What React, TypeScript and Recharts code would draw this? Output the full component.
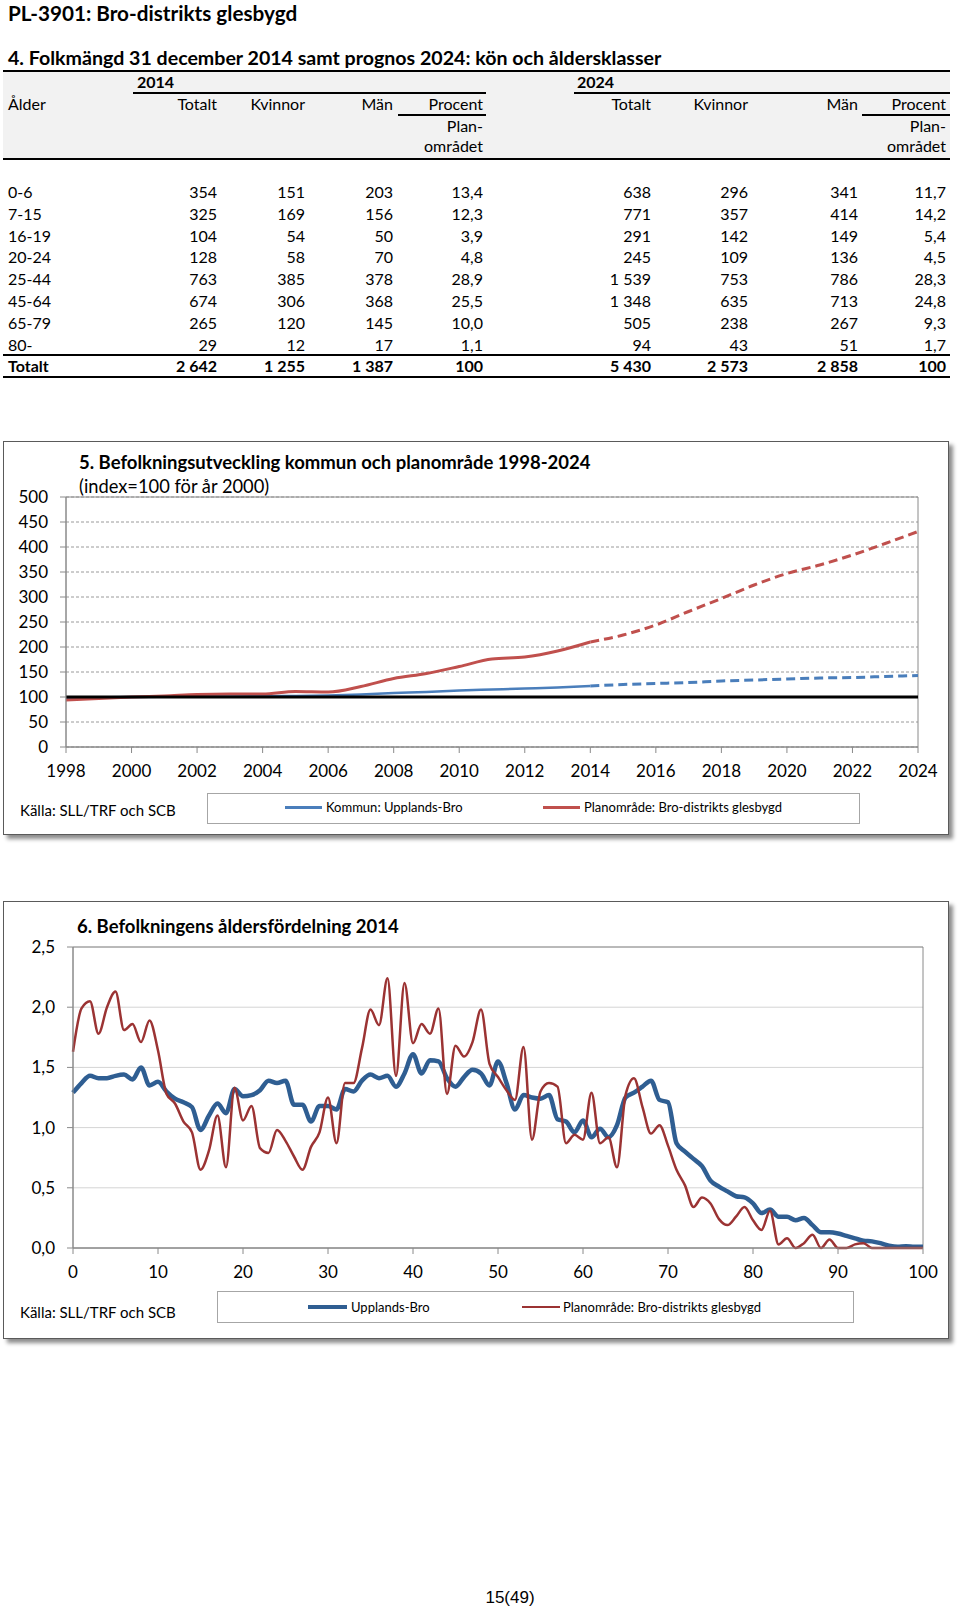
import React from "react";
import {
  LineChart,
  Line,
  XAxis,
  YAxis,
  CartesianGrid,
  ReferenceLine,
  ReferenceArea,
} from "recharts";

const FONT = "Lato, 'Open Sans', sans-serif";

// Tabell 4
const ageGroups = ["0-6", "7-15", "16-19", "20-24", "25-44", "45-64", "65-79", "80-"];
const tot2014 = [354, 325, 104, 128, 763, 674, 265, 29];
const kv2014 = [151, 169, 54, 58, 385, 306, 120, 12];
const man2014 = [203, 156, 50, 70, 378, 368, 145, 17];
const pct2014 = [13.4, 12.3, 3.9, 4.8, 28.9, 25.5, 10.0, 1.1];
const tot2024 = [638, 771, 291, 245, 1539, 1348, 505, 94];
const kv2024 = [296, 357, 142, 109, 753, 635, 238, 43];
const man2024 = [341, 414, 149, 136, 786, 713, 267, 51];
const pct2024 = [11.7, 14.2, 5.4, 4.5, 28.3, 24.8, 9.3, 1.7];
const sum2014 = [2642, 1255, 1387, 100];
const sum2024 = [5430, 2573, 2858, 100];

// Diagram 5
const years = [
  1998, 1999, 2000, 2001, 2002, 2003, 2004, 2005, 2006, 2007, 2008, 2009, 2010,
  2011, 2012, 2013, 2014, 2015, 2016, 2017, 2018, 2019, 2020, 2021, 2022, 2023, 2024,
];
const yearTicks = [1998, 2000, 2002, 2004, 2006, 2008, 2010, 2012, 2014, 2016, 2018, 2020, 2022, 2024];
const indexTicks = [0, 50, 100, 150, 200, 250, 300, 350, 400, 450, 500];
// 1998-2014
const kommunHist = [98, 99, 100, 100.5, 101, 101, 101.5, 102, 103, 105, 108, 110, 113, 115, 117, 119, 122];
// 2014-2024
const kommunProg = [122, 125, 127, 129, 132, 134, 136, 138, 139, 141, 143];
const planHist = [94, 97, 100, 102, 105, 106, 106, 111, 110, 121, 137, 147, 161, 176, 180, 192, 210];
const planProg = [210, 224, 244, 271, 297, 324, 347, 364, 384, 407, 431];

// Diagram 6, andel (%) per ålder 0-100
const upplandsBro = [
  1.29, 1.37, 1.43, 1.41, 1.41, 1.43, 1.44, 1.4, 1.5, 1.35, 1.38, 1.3, 1.24, 1.21, 1.17, 0.98, 1.1,
  1.2, 1.12, 1.32, 1.26, 1.27, 1.31, 1.39, 1.37, 1.39, 1.19, 1.19, 1.05, 1.18, 1.18, 1.15, 1.32,
  1.3, 1.39, 1.44, 1.41, 1.43, 1.34, 1.45, 1.61, 1.45, 1.56, 1.55, 1.41, 1.34, 1.42, 1.48, 1.45,
  1.35, 1.55, 1.37, 1.15, 1.27, 1.25, 1.24, 1.27, 1.07, 1.05, 0.96, 1.06, 0.92, 0.99, 0.92, 1.02,
  1.25, 1.29, 1.34, 1.39, 1.23, 1.21, 0.87, 0.8, 0.74, 0.68, 0.56, 0.51, 0.47, 0.43, 0.42, 0.37,
  0.29, 0.32, 0.26, 0.26, 0.23, 0.25, 0.19, 0.13, 0.13, 0.12, 0.1, 0.08, 0.06, 0.055, 0.04, 0.02,
  0.01, 0.015, 0.01, 0.01,
];
const broGlesbygd = [
  1.63, 1.99, 2.05, 1.78, 2.0, 2.13, 1.81, 1.86, 1.71, 1.89, 1.64, 1.28, 1.2, 1.05, 0.96, 0.65, 0.81,
  1.1, 0.67, 1.33, 1.06, 1.18, 0.83, 0.79, 0.98, 0.89, 0.76, 0.65, 0.84, 0.96, 1.25, 0.87, 1.37,
  1.37, 1.66, 1.98, 1.85, 2.24, 1.43, 2.2, 1.7, 1.86, 1.78, 1.99, 1.28, 1.68, 1.59, 1.71, 1.98,
  1.53, 1.42, 1.31, 1.23, 1.67, 0.9, 1.3, 1.37, 1.34, 0.87, 0.94, 0.9, 1.29, 0.87, 0.92, 0.67, 1.27,
  1.41, 1.17, 0.95, 1.02, 0.85, 0.65, 0.52, 0.34, 0.42, 0.37, 0.24, 0.19, 0.26, 0.34, 0.23, 0.15,
  0.31, 0.03, 0.08, 0, 0.04, 0.11, 0, 0.07, 0, 0, 0.03, 0.04, 0, 0, 0, 0, 0, 0, 0,
];
const ageTicks = [0, 10, 20, 30, 40, 50, 60, 70, 80, 90, 100];
const shareTicks = [0, 0.5, 1, 1.5, 2, 2.5];

const devData = years.map((year, i) => ({
  year,
  kommun: i < kommunHist.length ? kommunHist[i] : null,
  kommunProg: i >= 16 ? kommunProg[i - 16] : null,
  plan: i < planHist.length ? planHist[i] : null,
  planProg: i >= 16 ? planProg[i - 16] : null,
}));

const ageData = upplandsBro.map((v, i) => ({ age: i, bro: v, plan: broGlesbygd[i] }));

const BLUE5 = "#4a7ebb";
const RED5 = "#c0504d";
const BLUE6 = "#2f5e92";
const RED6 = "#9b3333";
const AXIS = "#8a8a8a";

function fmtInt(n: number) {
  return n >= 1000 ? `${Math.floor(n / 1000)} ${String(n % 1000).padStart(3, "0")}` : String(n);
}
function fmtPct(n: number) {
  return n.toFixed(1).replace(".", ",");
}

type TxtProps = {
  x: number;
  y: number;
  anchor?: "start" | "end" | "middle";
  size?: number;
  bold?: boolean;
  font?: string;
  children: React.ReactNode;
};

function Txt({ x, y, anchor = "start", size = 16, bold, font = FONT, children }: TxtProps) {
  const h = Math.round(size * 1.25);
  const style: React.CSSProperties = {
    position: "absolute",
    top: y - h / 2,
    height: h,
    lineHeight: `${h}px`,
    fontSize: size,
    fontWeight: bold ? 700 : 400,
    fontFamily: font,
    whiteSpace: "nowrap",
    color: "#000",
  };
  if (anchor === "start") style.left = x;
  else if (anchor === "end") style.right = 960 - x;
  else {
    style.left = x - 300;
    style.width = 600;
    style.textAlign = "center";
  }
  return <div style={style}>{children}</div>;
}

function HLine({ x1, x2, y, t = 2, color = "#000" }: { x1: number; x2: number; y: number; t?: number; color?: string }) {
  return (
    <div
      style={{ position: "absolute", left: x1, top: y - t / 2, width: x2 - x1, height: t, background: color }}
    />
  );
}

const leftCols = [217, 305, 393, 483];
const rightCols = [651, 748, 858, 946];

function Table4() {
  const rowY = (i: number) => 192 + i * 21.8;
  return (
    <>
      <Txt x={8} y={13} size={20.7} bold>
        PL-3901: Bro-distrikts glesbygd
      </Txt>
      <Txt x={8} y={57} size={19.6} bold>
        4. Folkmängd 31 december 2014 samt prognos 2024: kön och åldersklasser
      </Txt>
      <div style={{ position: "absolute", left: 3, top: 71, width: 947, height: 88, background: "#f2f2f2" }} />
      <HLine x1={3} x2={950} y={71} />
      <Txt x={137} y={82} bold>2014</Txt>
      <Txt x={577} y={82} bold>2024</Txt>
      <HLine x1={133} x2={486} y={93} t={1.5} />
      <HLine x1={574} x2={950} y={93} t={1.5} />
      <Txt x={8} y={104}>Ålder</Txt>
      {["Totalt", "Kvinnor", "Män", "Procent"].map((h, k) => (
        <React.Fragment key={h}>
          <Txt x={leftCols[k]} y={104} anchor="end">{h}</Txt>
          <Txt x={rightCols[k]} y={104} anchor="end">{h}</Txt>
        </React.Fragment>
      ))}
      <HLine x1={398} x2={486} y={115} t={1.5} />
      <HLine x1={862} x2={950} y={115} t={1.5} />
      <Txt x={483} y={126} anchor="end">Plan-</Txt>
      <Txt x={483} y={146} anchor="end">området</Txt>
      <Txt x={946} y={126} anchor="end">Plan-</Txt>
      <Txt x={946} y={146} anchor="end">området</Txt>
      <HLine x1={3} x2={950} y={159} />
      {ageGroups.map((g, i) => {
        const left = [fmtInt(tot2014[i]), fmtInt(kv2014[i]), fmtInt(man2014[i]), fmtPct(pct2014[i])];
        const right = [fmtInt(tot2024[i]), fmtInt(kv2024[i]), fmtInt(man2024[i]), fmtPct(pct2024[i])];
        return (
          <React.Fragment key={g}>
            <Txt x={8} y={rowY(i)}>{g}</Txt>
            {left.map((v, k) => (
              <Txt key={"l" + k} x={leftCols[k]} y={rowY(i)} anchor="end">{v}</Txt>
            ))}
            {right.map((v, k) => (
              <Txt key={"r" + k} x={rightCols[k]} y={rowY(i)} anchor="end">{v}</Txt>
            ))}
          </React.Fragment>
        );
      })}
      <HLine x1={3} x2={950} y={355} />
      <Txt x={8} y={366} bold>Totalt</Txt>
      {sum2014.map((v, k) => (
        <Txt key={"sl" + k} x={leftCols[k]} y={366} anchor="end" bold>{fmtInt(v)}</Txt>
      ))}
      {sum2024.map((v, k) => (
        <Txt key={"sr" + k} x={rightCols[k]} y={366} anchor="end" bold>{fmtInt(v)}</Txt>
      ))}
      <HLine x1={3} x2={950} y={377} />
    </>
  );
}

const tickStyle = { fill: "#000", fontSize: 17, fontFamily: FONT };

function Frame({ top, height }: { top: number; height: number }) {
  return (
    <div
      style={{
        position: "absolute",
        left: 3,
        top,
        width: 944,
        height,
        border: "1px solid #5a5a5a",
        boxShadow: "4px 4px 4px rgba(0,0,0,0.45)",
        background: "#fff",
      }}
    />
  );
}

function LegendBox({ left, top, width, height }: { left: number; top: number; width: number; height: number }) {
  return (
    <div
      style={{ position: "absolute", left, top, width, height, border: "1px solid #a6a6a6", background: "#fff" }}
    />
  );
}

function Chart5() {
  return (
    <>
      <Frame top={441} height={392} />
      <div style={{ position: "absolute", left: 0, top: 441, width: 950, height: 395 }}>
        <LineChart width={950} height={395} data={devData} margin={{ top: 56, right: 32, left: 6, bottom: 59 }}>
          <CartesianGrid vertical={false} stroke="#9a9a9a" strokeDasharray="3 2" />
          <XAxis
            dataKey="year"
            type="number"
            domain={[1998, 2024]}
            ticks={yearTicks}
            interval={0}
            stroke={AXIS}
            tick={tickStyle}
            tickSize={6}
            tickMargin={12}
            height={30}
          />
          <YAxis
            domain={[0, 500]}
            ticks={indexTicks}
            interval={0}
            stroke={AXIS}
            tick={tickStyle}
            tickSize={6}
            tickMargin={12}
            width={60}
          />
          <ReferenceArea x1={1998} x2={2024} y1={0} y2={500} fill="none" stroke={AXIS} strokeOpacity={1} fillOpacity={0} />
          <Line type="monotone" dataKey="kommun" stroke={BLUE5} strokeWidth={2.5} dot={false} activeDot={false} isAnimationActive={false} />
          <Line type="monotone" dataKey="kommunProg" stroke={BLUE5} strokeWidth={3} strokeDasharray="9 5" dot={false} activeDot={false} isAnimationActive={false} />
          <Line type="monotone" dataKey="plan" stroke={RED5} strokeWidth={3} dot={false} activeDot={false} isAnimationActive={false} />
          <Line type="monotone" dataKey="planProg" stroke={RED5} strokeWidth={3} strokeDasharray="9 5" dot={false} activeDot={false} isAnimationActive={false} />
          <ReferenceLine y={100} stroke="#000" strokeWidth={3} />
        </LineChart>
      </div>
      <Txt x={79} y={462} size={18.5} bold>
        5. Befolkningsutveckling kommun och planområde 1998-2024
      </Txt>
      <Txt x={79} y={486} size={18.3}>
        (index=100 för år 2000)
      </Txt>
      <Txt x={20} y={810} size={15}>Källa: SLL/TRF och SCB</Txt>
      <LegendBox left={207} top={793} width={651} height={29} />
      <HLine x1={285} x2={322} y={807} t={3} color={BLUE5} />
      <Txt x={326} y={807} size={13}>Kommun: Upplands-Bro</Txt>
      <HLine x1={543} x2={580} y={807} t={3} color={RED5} />
      <Txt x={584} y={807} size={13}>Planområde: Bro-distrikts glesbygd</Txt>
    </>
  );
}

function Chart6() {
  return (
    <>
      <Frame top={901} height={436} />
      <div style={{ position: "absolute", left: 0, top: 901, width: 950, height: 437 }}>
        <LineChart width={950} height={437} data={ageData} margin={{ top: 46, right: 27, left: 13, bottom: 60 }}>
          <CartesianGrid vertical={false} stroke="#d4d4d4" />
          <XAxis
            dataKey="age"
            type="number"
            domain={[0, 100]}
            ticks={ageTicks}
            interval={0}
            stroke={AXIS}
            tick={tickStyle}
            tickSize={6}
            tickMargin={12}
            height={30}
          />
          <YAxis
            domain={[0, 2.5]}
            ticks={shareTicks}
            interval={0}
            stroke={AXIS}
            tick={tickStyle}
            tickSize={6}
            tickMargin={12}
            width={60}
            tickFormatter={(v: number) => fmtPct(v)}
          />
          <ReferenceArea x1={0} x2={100} y1={0} y2={2.5} fill="none" stroke={AXIS} strokeOpacity={1} fillOpacity={0} />
          <Line type="monotone" dataKey="bro" stroke={BLUE6} strokeWidth={4.5} dot={false} activeDot={false} isAnimationActive={false} />
          <Line type="monotone" dataKey="plan" stroke={RED6} strokeWidth={2.5} dot={false} activeDot={false} isAnimationActive={false} />
        </LineChart>
      </div>
      <Txt x={77} y={926} size={18.5} bold>
        6. Befolkningens åldersfördelning 2014
      </Txt>
      <Txt x={20} y={1312} size={15}>Källa: SLL/TRF och SCB</Txt>
      <LegendBox left={217} top={1291} width={635} height={30} />
      <HLine x1={308} x2={347} y={1307} t={4.5} color={BLUE6} />
      <Txt x={351} y={1307} size={13}>Upplands-Bro</Txt>
      <HLine x1={522} x2={560} y={1307} t={2.5} color={RED6} />
      <Txt x={563} y={1307} size={13}>Planområde: Bro-distrikts glesbygd</Txt>
    </>
  );
}

export default function App() {
  return (
    <div style={{ position: "absolute", left: 0, top: 0, width: 960, height: 1610, background: "#fff", overflow: "hidden" }}>
      <Table4 />
      <Chart5 />
      <Chart6 />
      <Txt x={510} y={1597} anchor="middle" size={17} font="'Liberation Sans', Arial, sans-serif">
        15(49)
      </Txt>
    </div>
  );
}
